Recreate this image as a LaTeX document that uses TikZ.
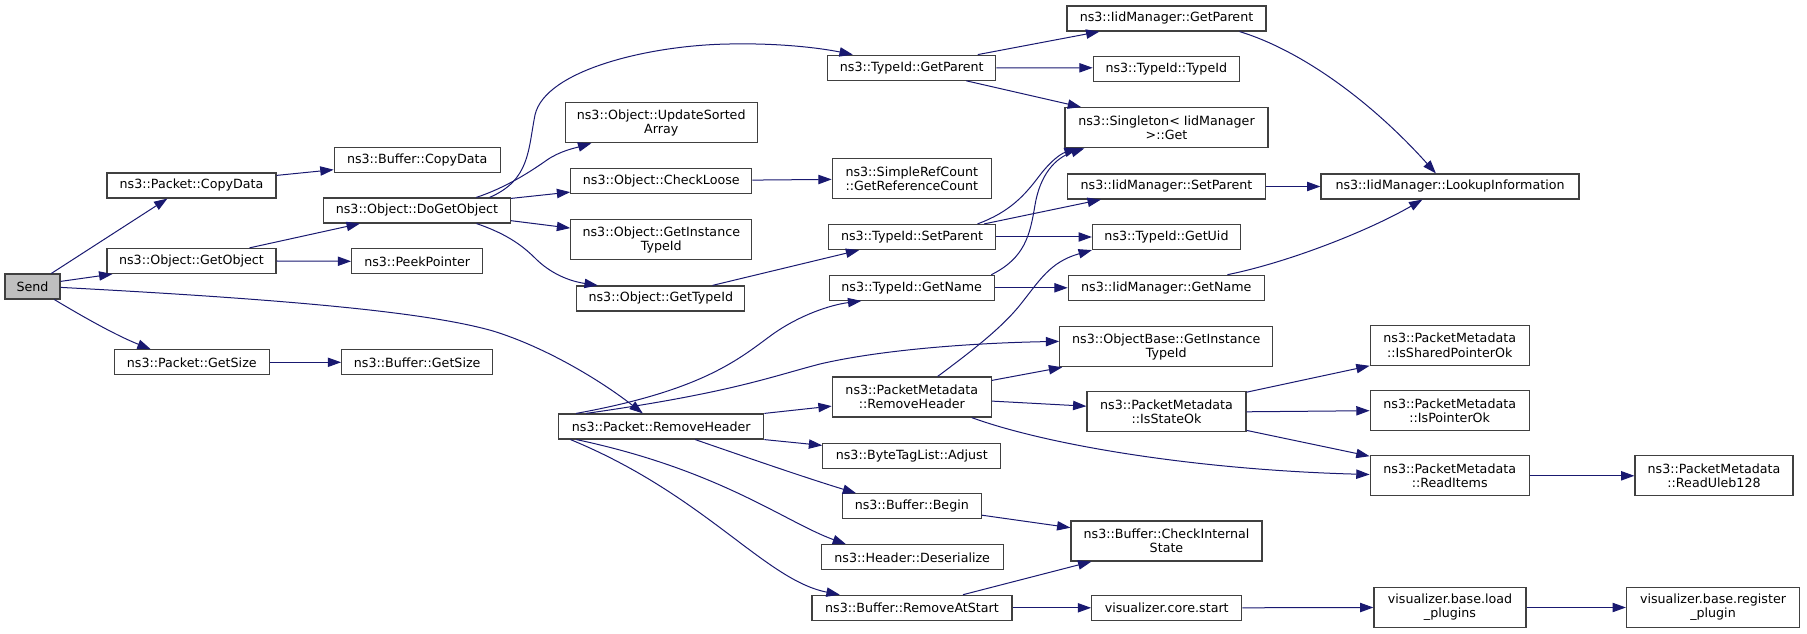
\documentclass[tikz,border=0pt]{standalone}
\usepackage{fontspec}
\setmainfont{DejaVu Sans}
\usetikzlibrary{arrows.meta,calc}
\definecolor{edgec}{HTML}{191970}
\definecolor{nodec}{HTML}{404040}
\definecolor{sendc}{HTML}{BFBFBF}
\begin{document}
\begin{tikzpicture}[x=0.75pt,y=-0.75pt,
  box/.style={draw=nodec, line width=0.9pt, fill=white, inner sep=0pt, align=center,
    font=\fontsize{9.5}{10.75}\selectfont},
  wh/.style 2 args={minimum width=#1*0.75pt, minimum height=#2*0.75pt},
  edg/.style={draw=edgec, line width=0.75pt, -{Triangle[length=10pt,width=7pt]}, fill=none}]
\useasboundingbox (0,0) rectangle (1807,634);
% nodes
\node[box,wh={55}{25},fill=sendc] (send) at (32.5,286.5) {Send};
\node[box,wh={169}{25}] (pcopy) at (191.5,185.5) {ns3::Packet::CopyData};
\node[box,wh={169}{25}] (getobj) at (191.5,261) {ns3::Object::GetObject};
\node[box,wh={155}{25}] (pgetsize) at (191.8,362.3) {ns3::Packet::GetSize};
\node[box,wh={205}{25}] (prh) at (661.3,426.5) {ns3::Packet::RemoveHeader};
\node[box,wh={166}{25}] (bcopy) at (417.2,159.8) {ns3::Buffer::CopyData};
\node[box,wh={187}{25}] (dogo) at (417,210.5) {ns3::Object::DoGetObject};
\node[box,wh={131}{25}] (peek) at (417.2,261.3) {ns3::PeekPointer};
\node[box,wh={151}{25}] (bgetsize) at (417.2,362.3) {ns3::Buffer::GetSize};
\node[box,wh={192}{40}] (usa) at (661.2,122.7) {ns3::Object::UpdateSorted\\Array};
\node[box,wh={181}{25}] (checkloose) at (661.3,181.2) {ns3::Object::CheckLoose};
\node[box,wh={181}{40}] (ogiti) at (661.3,239.7) {ns3::Object::GetInstance\\TypeId};
\node[box,wh={168}{25}] (ogti) at (660.8,298.5) {ns3::Object::GetTypeId};
\node[box,wh={168}{25}] (tgetparent) at (911.8,67.7) {ns3::TypeId::GetParent};
\node[box,wh={159}{40}] (srcgrc) at (911.8,178.7) {ns3::SimpleRefCount\\::GetReferenceCount};
\node[box,wh={167}{25}] (tsetparent) at (912,237) {ns3::TypeId::SetParent};
\node[box,wh={165}{25}] (tgetname) at (911.7,287.8) {ns3::TypeId::GetName};
\node[box,wh={159}{40}] (pmrh) at (911.8,397) {ns3::PacketMetadata\\::RemoveHeader};
\node[box,wh={178}{25}] (btladj) at (911.8,455.8) {ns3::ByteTagList::Adjust};
\node[box,wh={139}{25}] (bbegin) at (911.8,506.3) {ns3::Buffer::Begin};
\node[box,wh={182}{25}] (hdeser) at (912.2,557.3) {ns3::Header::Deserialize};
\node[box,wh={200}{25}] (brat) at (912,607.8) {ns3::Buffer::RemoveAtStart};
\node[box,wh={199}{25}] (igetparent) at (1166.5,18.5) {ns3::IidManager::GetParent};
\node[box,wh={146}{25}] (ttypeid) at (1166.3,69.3) {ns3::TypeId::TypeId};
\node[box,wh={203}{40}] (single) at (1166.5,127.7) {ns3::Singleton< IidManager\\>::Get};
\node[box,wh={198}{25}] (isetparent) at (1166.5,186.5) {ns3::IidManager::SetParent};
\node[box,wh={148}{25}] (tgetuid) at (1166.5,237) {ns3::TypeId::GetUid};
\node[box,wh={196}{25}] (igetname) at (1166.3,287.8) {ns3::IidManager::GetName};
\node[box,wh={213}{40}] (obgiti) at (1166.3,346.7) {ns3::ObjectBase::GetInstance\\TypeId};
\node[box,wh={159}{40}] (isstateok) at (1166.5,411.8) {ns3::PacketMetadata\\::IsStateOk};
\node[box,wh={191}{40}] (bcis) at (1166.5,541) {ns3::Buffer::CheckInternal\\State};
\node[box,wh={150}{25}] (vcs) at (1166.7,607.8) {visualizer.core.start};
\node[box,wh={258}{25}] (lookup) at (1450,186.5) {ns3::IidManager::LookupInformation};
\node[box,wh={159}{40}] (issp) at (1449.7,345.2) {ns3::PacketMetadata\\::IsSharedPointerOk};
\node[box,wh={159}{40}] (ispo) at (1449.7,410.7) {ns3::PacketMetadata\\::IsPointerOk};
\node[box,wh={159}{40}] (readitems) at (1449.7,475.8) {ns3::PacketMetadata\\::ReadItems};
\node[box,wh={152}{40}] (vbl) at (1450,607.5) {visualizer.base.load\\\_plugins};
\node[box,wh={158}{40}] (readuleb) at (1714,475.8) {ns3::PacketMetadata\\::ReadUleb128};
\node[box,wh={173}{40}] (vbr) at (1713,607.5) {visualizer.base.register\\\_plugin};
% edges from Send
\draw[edg] ($(send.north west)+(47,0)$) -- ($(pcopy.south west)+(61,0)$);
\draw[edg] ($(send.north east)+(0,8)$) -- ($(getobj.south west)+(6,0)$);
\draw[edg] ($(send.north east)+(0,14)$) .. controls (300,300) and (430,313) .. (493,331)
  .. controls (545,347) and (600,380) .. ($(prh.north west)+(84.6,0)$);
\draw[edg] ($(send.south west)+(50,0)$) .. controls (80,315) and (115,335) .. ($(pgetsize.north west)+(37,0)$);
% second column
\draw[edg] ($(pcopy.north east)+(0,3)$) -- ($(bcopy.north west)+(0,23)$);
\draw[edg] ($(getobj.north west)+(143,0)$) -- ($(dogo.south west)+(37,0)$);
\draw[edg] (getobj.east) -- (peek.west);
\draw[edg] (pgetsize.east) -- (bgetsize.west);
% from DoGetObject
\draw[edg] ($(dogo.north west)+(166.7,0)$) .. controls (530,180) and (528,150) .. (535,115)
  .. controls (545,70) and (650,45) .. (730,44) .. controls (780,43) and (820,48) .. ($(tgetparent.north west)+(25.6,0)$);
\draw[edg] ($(dogo.north west)+(153.4,0)$) .. controls (505,188) and (530,172) .. (547,160)
  .. controls (560,151) and (575,148) .. ($(usa.south west)+(26.7,0)$);
\draw[edg] ($(dogo.north east)+(0,1)$) -- ($(checkloose.north west)+(0,24)$);
\draw[edg] ($(dogo.north east)+(0,23.3)$) -- ($(ogiti.north west)+(0,9)$);
\draw[edg] ($(dogo.south west)+(153.7,0)$) .. controls (510,235) and (525,248) .. (537,260)
  .. controls (555,277) and (575,282) .. ($(ogti.north west)+(21.6,0)$);
\draw[edg] ($(checkloose.north east)+(0,12)$) -- ($(srcgrc.north west)+(0,21.3)$);
\draw[edg] ($(ogti.north west)+(136.3,0)$) -- ($(tsetparent.south west)+(31.3,0)$);
% from Packet::RemoveHeader
\draw[edg] ($(prh.north west)+(18,0)$) .. controls (705,390) and (740,358) .. (773,334)
  .. controls (800,315) and (830,305) .. ($(tgetname.south west)+(32.7,0)$);
\draw[edg] ($(prh.north west)+(28,0)$) .. controls (730,393) and (770,377) .. (820,364)
  .. controls (880,350) and (970,343) .. ($(obgiti.north west)+(0,15.3)$);
\draw[edg] (prh.north east) -- ($(pmrh.north west)+(0,29.7)$);
\draw[edg] (prh.south east) -- ($(btladj.north west)+(0,2.7)$);
\draw[edg] ($(prh.south west)+(137,0)$) .. controls (740,455) and (800,476) .. ($(bbegin.north west)+(14.4,0)$);
\draw[edg] ($(prh.south west)+(18.3,0)$) .. controls (720,470) and (785,522) .. ($(hdeser.north west)+(25.4,0)$);
\draw[edg] ($(prh.south west)+(12.3,0)$) .. controls (705,495) and (765,580) .. ($(brat.north west)+(28.3,0)$);
% TypeId column
\draw[edg] ($(tgetparent.north west)+(150.6,0)$) -- ($(igetparent.south west)+(33,0)$);
\draw[edg] ($(tgetparent.north east)+(0,13.3)$) -- ($(ttypeid.north west)+(0,11.6)$);
\draw[edg] ($(tgetparent.south west)+(139,0)$) -- ($(single.north west)+(16.7,0)$);
\draw[edg] ($(tsetparent.north west)+(149.6,0)$) .. controls (1010,212) and (1025,195) .. (1040,175)
  .. controls (1050,162) and (1060,154) .. ($(single.south west)+(13.3,0)$);
\draw[edg] ($(tsetparent.north west)+(156.3,0)$) -- ($(isetparent.south west)+(34,0)$);
\draw[edg] (tsetparent.east) -- (tgetuid.west);
\draw[edg] ($(tgetname.north west)+(162.7,0)$) .. controls (1025,258) and (1030,235) .. (1035,205)
  .. controls (1040,175) and (1055,158) .. ($(single.south west)+(20,0)$);
\draw[edg] (tgetname.east) -- (igetname.west);
\draw[edg] ($(pmrh.north west)+(106,0)$) .. controls (965,356) and (1000,330) .. (1020,305)
  .. controls (1040,280) and (1050,262) .. (tgetuid.south west);
\draw[edg] ($(pmrh.north east)+(0,4)$) -- ($(obgiti.south west)+(3,0)$);
\draw[edg] ($(pmrh.north east)+(0,24.7)$) -- ($(isstateok.north west)+(0,15)$);
\draw[edg] ($(pmrh.south west)+(140,0)$) .. controls (1050,446) and (1200,470) .. ($(readitems.north west)+(0,19.3)$);
\draw[edg] ($(bbegin.north east)+(0,22)$) -- ($(bcis.north west)+(0,7.3)$);
\draw[edg] ($(brat.north west)+(151.6,0)$) -- ($(bcis.south west)+(21,0)$);
\draw[edg] (brat.east) -- (vcs.west);
% IidManager column
\draw[edg] ($(igetparent.south west)+(173.2,0)$) .. controls (1300,50) and (1370,100) .. ($(lookup.north west)+(115.5,0)$);
\draw[edg] (isetparent.east) -- (lookup.west);
\draw[edg] ($(igetname.north west)+(159.7,0)$) .. controls (1290,262) and (1370,230) .. ($(lookup.south west)+(102,0)$);
\draw[edg] ($(isstateok.north east)+(0,1)$) -- (issp.south west);
\draw[edg] (isstateok.east) -- (ispo.west);
\draw[edg] ($(isstateok.south east)+(0,-2)$) -- ($(readitems.north west)+(0,1)$);
\draw[edg] (readitems.east) -- (readuleb.west);
\draw[edg] (vcs.east) -- (vbl.west);
\draw[edg] (vbl.east) -- (vbr.west);
\end{tikzpicture}
\end{document}
